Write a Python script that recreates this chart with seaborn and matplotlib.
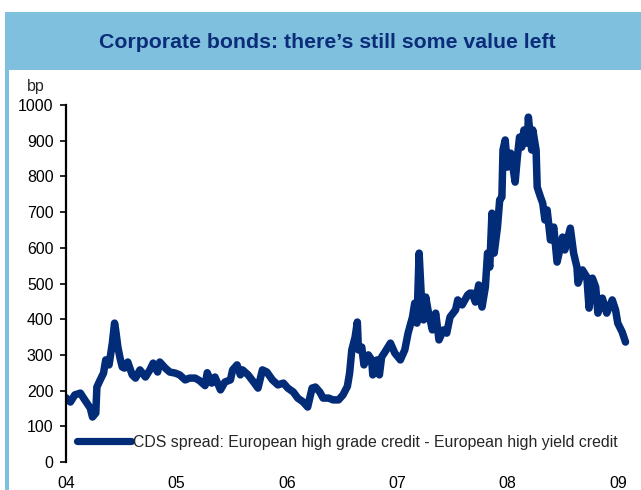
import matplotlib
matplotlib.use("Agg")
import matplotlib.pyplot as plt
import matplotlib.patches as mpatches
import seaborn as sns
import pandas as pd

# Spread series (basis points) sampled along the decimal-year time axis
years = [
    2004.00, 2004.04, 2004.08, 2004.13, 2004.17, 2004.22, 2004.24, 2004.27, 2004.28, 2004.31,
    2004.34, 2004.36, 2004.39, 2004.42, 2004.44, 2004.45, 2004.47, 2004.49, 2004.51, 2004.53,
    2004.56, 2004.60, 2004.63, 2004.67, 2004.72, 2004.76, 2004.79, 2004.83, 2004.85, 2004.90,
    2004.94, 2004.99, 2005.03, 2005.08, 2005.12, 2005.17, 2005.21, 2005.26, 2005.28, 2005.32,
    2005.35, 2005.40, 2005.44, 2005.49, 2005.51, 2005.55, 2005.58, 2005.60, 2005.65, 2005.70,
    2005.74, 2005.78, 2005.82, 2005.87, 2005.92, 2005.97, 2006.01, 2006.06, 2006.10, 2006.15,
    2006.19, 2006.23, 2006.26, 2006.30, 2006.33, 2006.38, 2006.42, 2006.47, 2006.51, 2006.55,
    2006.57, 2006.59, 2006.62, 2006.64, 2006.65, 2006.68, 2006.70, 2006.74, 2006.77, 2006.78,
    2006.82, 2006.84, 2006.86, 2006.89, 2006.94, 2006.98, 2007.03, 2007.07, 2007.10, 2007.14,
    2007.16, 2007.18, 2007.20, 2007.22, 2007.24, 2007.26, 2007.28, 2007.32, 2007.35, 2007.38,
    2007.42, 2007.45, 2007.48, 2007.53, 2007.55, 2007.59, 2007.64, 2007.66, 2007.68, 2007.71,
    2007.74, 2007.77, 2007.80, 2007.82, 2007.84, 2007.86, 2007.88, 2007.91, 2007.93, 2007.95,
    2007.96, 2007.98, 2008.00, 2008.03, 2008.05, 2008.07, 2008.09, 2008.11, 2008.13, 2008.15,
    2008.18, 2008.19, 2008.22, 2008.23, 2008.26, 2008.27, 2008.30, 2008.32, 2008.34, 2008.36,
    2008.39, 2008.42, 2008.45, 2008.50, 2008.52, 2008.57, 2008.60, 2008.63, 2008.64, 2008.68,
    2008.72, 2008.74, 2008.77, 2008.80, 2008.82, 2008.86, 2008.90, 2008.95, 2008.98, 2009.00,
    2009.04, 2009.07,
]
spread_bp = [
    180, 168, 188, 193, 174, 151, 126, 137, 210, 230,
    249, 286, 272, 333, 389, 370, 322, 291, 266, 263,
    280, 244, 235, 258, 238, 258, 277, 252, 280, 263,
    252, 249, 244, 230, 235, 235, 228, 214, 250, 221,
    238, 202, 224, 230, 258, 272, 244, 258, 244, 224,
    207, 258, 252, 230, 216, 221, 207, 196, 179, 168,
    154, 207, 210, 196, 179, 179, 174, 174, 188, 212,
    249, 314, 350, 392, 314, 322, 272, 300, 286, 244,
    286, 244, 294, 308, 333, 305, 286, 314, 361, 406,
    445, 389, 585, 462, 398, 462, 426, 370, 417, 342,
    370, 361, 406, 426, 454, 440, 468, 473, 473, 448,
    496, 434, 490, 585, 546, 697, 585, 658, 734, 742,
    874, 902, 826, 865, 826, 784, 854, 910, 882, 930,
    893, 966, 874, 930, 874, 770, 742, 725, 678, 706,
    622, 658, 560, 630, 594, 655, 585, 546, 501, 538,
    518, 431, 515, 490, 417, 459, 417, 454, 426, 389,
    364, 336,
]
year_ticks = [2004, 2005, 2006, 2007, 2008, 2009]
year_labels = ["04", "05", "06", "07", "08", "09"]
bp_ticks = [0, 100, 200, 300, 400, 500, 600, 700, 800, 900, 1000]

title = "Corporate bonds: there\u2019s still some value left"
series_label = "CDS spread: European high grade credit - European high yield credit"

NAVY = "#022b78"
BANNER = "#7fc0de"
FS = 11.4

sns.set_style("white")
plt.rcParams["font.family"] = ["Liberation Sans", "DejaVu Sans"]

df = pd.DataFrame({"year": years, "bp": spread_bp})

fig = plt.figure(figsize=(6.41, 4.90), dpi=100)

# Title banner and left frame strip
fig.patches.append(mpatches.Rectangle((5 / 641, 1 - 70 / 490), 1 - 5 / 641, 58 / 490,
                                      transform=fig.transFigure, facecolor=BANNER,
                                      edgecolor="none", zorder=0))
fig.patches.append(mpatches.Rectangle((5 / 641, 0), 4 / 641, 1 - 12 / 490,
                                      transform=fig.transFigure, facecolor=BANNER,
                                      edgecolor="none", zorder=0))
fig.text(327 / 641, 1 - 42 / 490, title, ha="center", va="center", fontsize=15.3,
         fontweight="bold", color="#0b2c78")

ax = fig.add_axes([66 / 641, 28 / 490, 565 / 641, 357 / 490])
sns.lineplot(data=df, x="year", y="bp", ax=ax, color=NAVY, linewidth=5.4,
             label=series_label, solid_joinstyle="round", solid_capstyle="round")

ax.set_xlim(2004.0, 2009.12)
ax.set_ylim(0, 1000)
ax.set_xticks(year_ticks)
ax.set_xticklabels(year_labels)
ax.set_yticks(bp_ticks)
ax.set_xlabel("")
ax.set_ylabel("")

for side in ("top", "right", "bottom"):
    ax.spines[side].set_visible(False)
ax.spines["left"].set_color("black")
ax.spines["left"].set_linewidth(1.6)

ax.tick_params(axis="y", which="both", left=True, length=4, width=1.2,
               direction="out", pad=5, labelsize=FS, colors="black")
ax.tick_params(axis="x", which="both", bottom=False, length=0, pad=10,
               labelsize=FS, colors="black")

fig.text(36 / 641, 1 - 86 / 490, "bp", ha="center", va="center", fontsize=FS)

leg = ax.legend(loc="center left", bbox_to_anchor=(11 / 565, 20 / 357), frameon=False,
                fontsize=FS, handlelength=3.4, handletextpad=0.15,
                borderpad=0, borderaxespad=0)
for h in leg.get_lines():
    h.set_linewidth(5.2)
    h.set_solid_capstyle("round")

fig.savefig("out.png", dpi=100)
